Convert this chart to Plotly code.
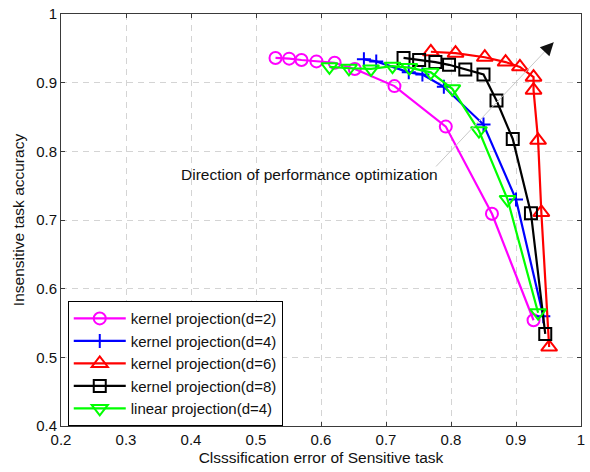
import plotly.graph_objects as go

# Trade-off curves: sensitive-task error (x) vs insensitive-task accuracy (y)
err_k2 = [0.530, 0.551, 0.570, 0.593, 0.621, 0.652, 0.713, 0.792, 0.863, 0.927]
acc_k2 = [0.936, 0.935, 0.933, 0.931, 0.929, 0.920, 0.895, 0.836, 0.709, 0.554]

err_k4 = [0.666, 0.685, 0.735, 0.756, 0.789, 0.850, 0.900, 0.942]
acc_k4 = [0.934, 0.931, 0.915, 0.912, 0.894, 0.839, 0.730, 0.560]

err_k6 = [0.769, 0.807, 0.852, 0.884, 0.906, 0.927, 0.927, 0.934, 0.939, 0.951]
acc_k6 = [0.945, 0.943, 0.937, 0.930, 0.923, 0.908, 0.889, 0.816, 0.711, 0.515]

err_k8 = [0.727, 0.751, 0.776, 0.797, 0.822, 0.850, 0.870, 0.895, 0.923, 0.945]
acc_k8 = [0.936, 0.933, 0.930, 0.926, 0.919, 0.912, 0.874, 0.818, 0.710, 0.534]

err_lin = [0.613, 0.643, 0.677, 0.710, 0.736, 0.769, 0.802, 0.843, 0.887, 0.934]
acc_lin = [0.923, 0.921, 0.920, 0.924, 0.922, 0.915, 0.891, 0.830, 0.730, 0.565]

names = ["kernel projection(d=2)", "kernel projection(d=4)", "kernel projection(d=6)",
         "kernel projection(d=8)", "linear projection(d=4)"]

x_ticks = [0.2, 0.3, 0.4, 0.5, 0.6, 0.7, 0.8, 0.9, 1.0]
x_tick_text = ["0.2", "0.3", "0.4", "0.5", "0.6", "0.7", "0.8", "0.9", "1"]
y_ticks = [0.4, 0.5, 0.6, 0.7, 0.8, 0.9, 1.0]
y_tick_text = ["0.4", "0.5", "0.6", "0.7", "0.8", "0.9", "1"]

arrow_start = (0.777, 0.778)
arrow_tip = (0.958, 0.959)
arrow_label = "Direction of performance optimization"

FONT = "Liberation Sans, Arial, Helvetica, sans-serif"

series = [
    (err_k2, acc_k2, "#FF00FF", "circle-open", 12),
    (err_k4, acc_k4, "#0000FF", "cross-thin-open", 10),
    (err_k6, acc_k6, "#FF0000", "triangle-up-open", 14),
    (err_k8, acc_k8, "#000000", "square-open", 12),
    (err_lin, acc_lin, "#00FF00", "triangle-down-open", 14),
]

fig = go.Figure()
for (xs, ys, col, sym, sz), nm in zip(series, names):
    fig.add_trace(go.Scatter(
        x=xs, y=ys, name=nm, mode="lines+markers",
        line=dict(color=col, width=2.2),
        marker=dict(symbol=sym, size=sz, color=col, line=dict(color=col, width=2)),
    ))

# thin gray guide line with a black arrowhead at its end
fig.add_shape(type="line", xref="x", yref="y",
              x0=arrow_start[0], y0=arrow_start[1], x1=arrow_tip[0], y1=arrow_tip[1],
              line=dict(color="#c8c8c8", width=1), layer="above")
fig.add_annotation(x=arrow_tip[0], y=arrow_tip[1], xref="x", yref="y",
                   ax=arrow_tip[0] - 0.012, ay=arrow_tip[1] - 0.012, axref="x", ayref="y",
                   text="", showarrow=True, arrowhead=2, arrowsize=2.2, arrowwidth=1.2,
                   arrowcolor="#111111")
fig.add_annotation(x=0.582, y=0.7666, xref="x", yref="y", text=arrow_label,
                   showarrow=False, xanchor="center", yanchor="middle",
                   font=dict(family=FONT, size=15.5, color="#111111"))

axis_common = dict(
    showgrid=True, gridcolor="#d4d4d4", griddash="6px,5px", gridwidth=1,
    showline=True, linecolor="#3a3a3a", linewidth=1, mirror="allticks",
    ticks="inside", ticklen=4, tickcolor="#3a3a3a",
    tickfont=dict(family=FONT, size=15, color="#111111"),
    zeroline=False,
)
fig.update_xaxes(range=[0.2, 1.0], tickvals=x_ticks, ticktext=x_tick_text,
                 title=dict(text="Clsssification error of Sensitive task",
                            font=dict(family=FONT, size=15.5, color="#111111"), standoff=5),
                 **axis_common)
fig.update_yaxes(range=[0.4, 1.0], tickvals=y_ticks, ticktext=y_tick_text,
                 title=dict(text="Insensitive task accuracy",
                            font=dict(family=FONT, size=15.5, color="#111111"), standoff=7),
                 **axis_common)

fig.update_layout(
    width=590, height=472,
    margin=dict(l=61, r=5, t=12, b=46),
    paper_bgcolor="white", plot_bgcolor="white",
    font=dict(family=FONT, color="#111111"),
    showlegend=True,
    legend=dict(x=0.013, y=0.303, xanchor="left", yanchor="top",
                bgcolor="white", bordercolor="#000000", borderwidth=1,
                font=dict(family=FONT, size=15, color="#111111"),
                tracegroupgap=0, itemwidth=52),
)

fig.write_html("out.html")
